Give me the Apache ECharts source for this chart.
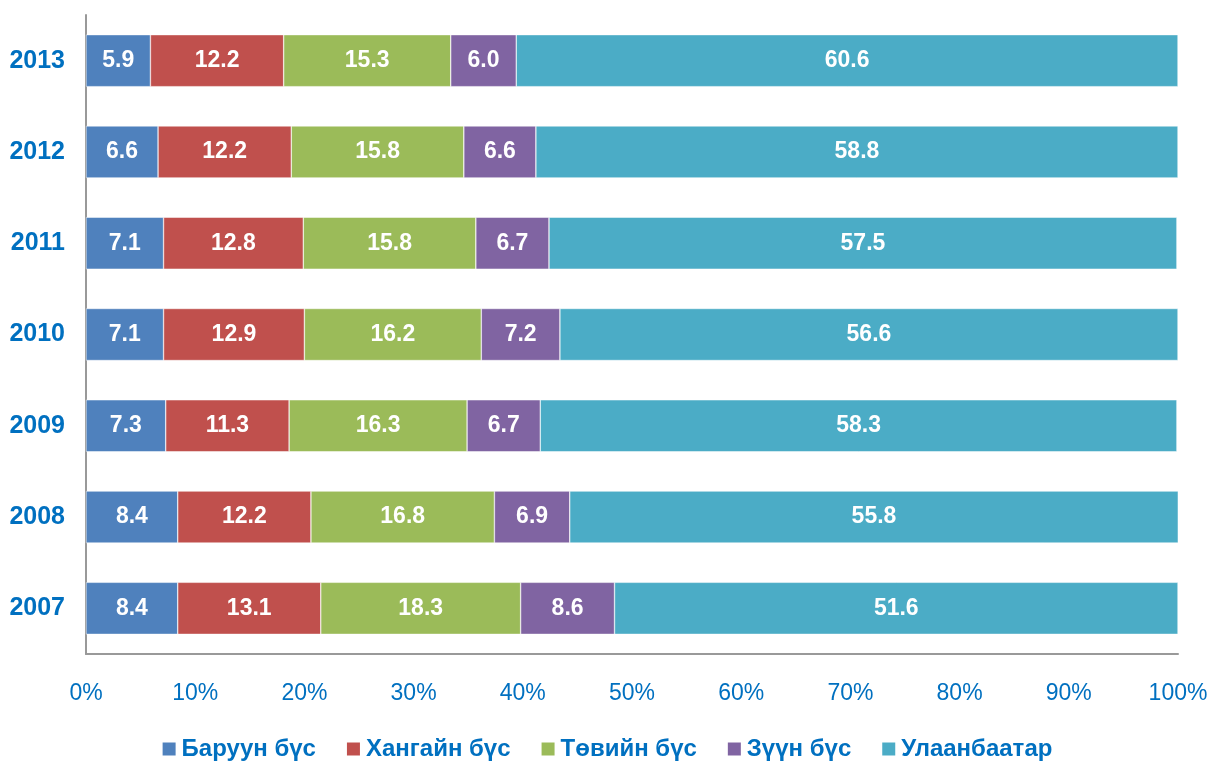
<!DOCTYPE html>
<html>
<head>
<meta charset="utf-8">
<script src="https://cdn.jsdelivr.net/npm/echarts@6/dist/echarts.min.js"></script>
<style>
  html, body { margin: 0; padding: 0; background: #fff; }
  #chart { width: 1213px; height: 769px; }
</style>
</head>
<body>
<div id="chart"></div>
<script>
const years = ['2007', '2008', '2009', '2010', '2011', '2012', '2013']
const seriesNames = ['Баруун бүс', 'Хангайн бүс', 'Төвийн бүс', 'Зүүн бүс', 'Улаанбаатар']
const baruun = [8.4, 8.4, 7.3, 7.1, 7.1, 6.6, 5.9]
const khangai = [13.1, 12.2, 11.3, 12.9, 12.8, 12.2, 12.2]
const tov = [18.3, 16.8, 16.3, 16.2, 15.8, 15.8, 15.3]
const zuun = [8.6, 6.9, 6.7, 7.2, 6.7, 6.6, 6.0]
const ub = [51.6, 55.8, 58.3, 56.6, 57.5, 58.8, 60.6]
const colors = ['#4F81BD', '#C0504D', '#9BBB59', '#8064A2', '#4BACC6']

// no narrow font installed, Liberation Sans is the closest in width
const font = "'Liberation Sans Narrow', 'Liberation Sans', Arial, sans-serif"
const blue = '#0070C0'

const chart = echarts.init(document.getElementById('chart'))

function makeSeries(name, data, i) {
  return {
    name: name,
    type: 'bar',
    stack: 'total',
    barWidth: '57%',
    data: data,
    itemStyle: { color: colors[i], borderColor: '#fff', borderWidth: 0.5 },
    label: {
      show: true,
      position: 'inside',
      color: '#fff',
      fontFamily: font,
      fontWeight: 'bold',
      fontSize: 23,
      formatter: p => p.value.toFixed(1)
    }
  }
}

chart.setOption({
  animation: false,
  textStyle: { fontFamily: font },
  grid: { left: 86, right: 35, top: 15, bottom: 115 },
  legend: {
    bottom: 3,
    left: 'center',
    itemWidth: 15,
    itemHeight: 15,
    itemGap: 29,
    icon: 'rect',
    textStyle: { color: blue, fontFamily: font, fontWeight: 'bold', fontSize: 24 },
    data: seriesNames
  },
  xAxis: {
    type: 'value',
    min: 0,
    max: 100,
    interval: 10,
    axisLine: { show: true, lineStyle: { color: '#999', width: 2 } },
    axisTick: { show: false },
    splitLine: { show: false },
    axisLabel: { color: blue, fontFamily: font, fontSize: 23, margin: 28, formatter: '{value}%' }
  },
  yAxis: {
    type: 'category',
    data: years,
    axisLine: { show: true, lineStyle: { color: '#999', width: 2 } },
    axisTick: { show: false },
    axisLabel: { color: blue, fontFamily: font, fontWeight: 'bold', fontSize: 25, margin: 21 }
  },
  series: [
    makeSeries(seriesNames[0], baruun, 0),
    makeSeries(seriesNames[1], khangai, 1),
    makeSeries(seriesNames[2], tov, 2),
    makeSeries(seriesNames[3], zuun, 3),
    makeSeries(seriesNames[4], ub, 4)
  ]
})
</script>
</body>
</html>
